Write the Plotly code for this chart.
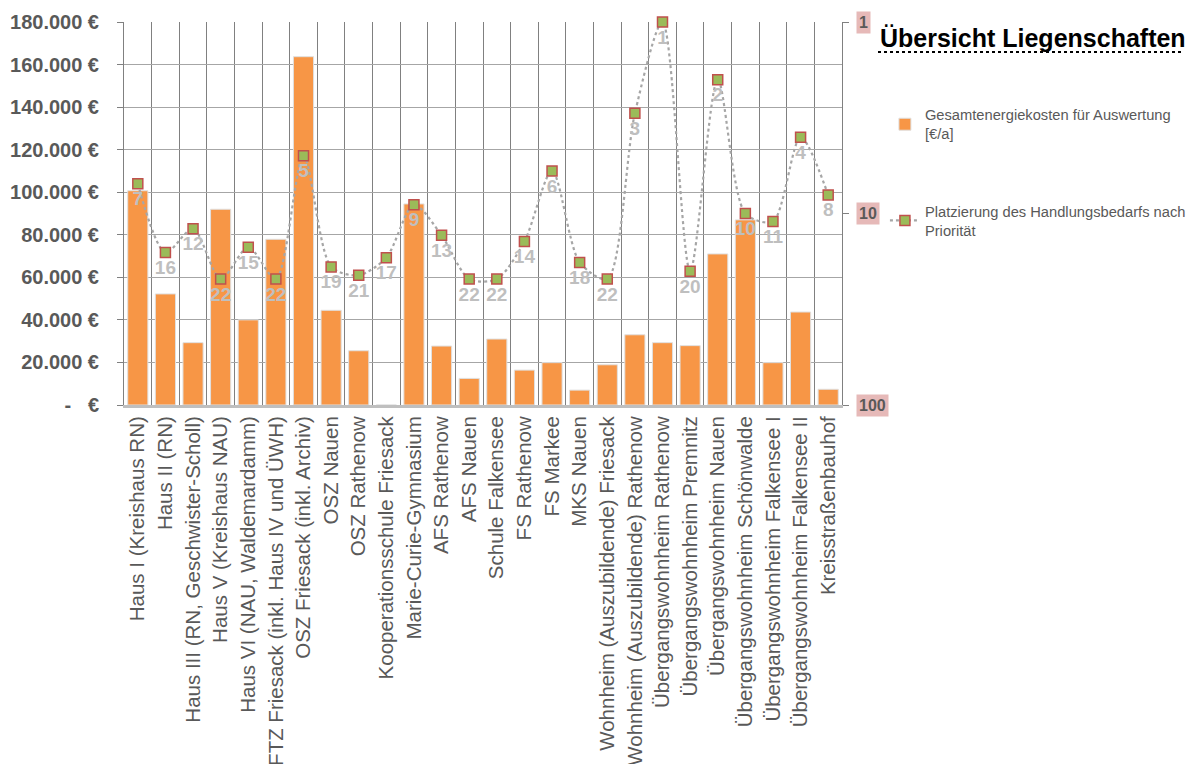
import plotly.graph_objects as go
import math

categories = [
    "Haus I (Kreishaus RN)", "Haus II (RN)", "Haus III (RN, Geschwister-Scholl)",
    "Haus V (Kreishaus NAU)", "Haus VI (NAU, Waldemardamm)",
    "FTZ Friesack (inkl. Haus IV und ÜWH)", "OSZ Friesack (inkl. Archiv)",
    "OSZ Nauen", "OSZ Rathenow", "Kooperationsschule Friesack",
    "Marie-Curie-Gymnasium", "AFS Rathenow", "AFS Nauen", "Schule Falkensee",
    "FS Rathenow", "FS Markee", "MKS Nauen", "Wohnheim (Auszubildende) Friesack",
    "Wohnheim (Auszubildende) Rathenow", "Übergangswohnheim Rathenow",
    "Übergangswohnheim Premnitz", "Übergangswohnheim Nauen",
    "Übergangswohnheim Schönwalde", "Übergangswohnheim Falkensee I",
    "Übergangswohnheim Falkensee II", "Kreisstraßenbauhof",
]
energy_costs = [
    100700, 52200, 29300, 92000, 40000, 77900, 163700, 44500, 25500, 0,
    94500, 27700, 12500, 31000, 16400, 19900, 7000, 18900, 33000, 29300,
    27900, 71000, 87000, 19900, 43700, 7400,
]
priority_rank = [
    7, 16, 12, 22, 15, 22, 5, 19, 21, 17, 9, 13, 22, 22, 14, 6, 18, 22,
    3, 1, 20, 2, 10, 11, 4, 8,
]
left_tickvals = [0, 20000, 40000, 60000, 80000, 100000, 120000, 140000, 160000, 180000]
left_ticktext = ["-\u00a0\u00a0\u00a0€", "20.000 €", "40.000 €", "60.000 €", "80.000 €",
                 "100.000 €", "120.000 €", "140.000 €", "160.000 €", "180.000 €"]
right_tickvals = [1, 10, 100]

FONT = "Arial, 'Liberation Sans', sans-serif"
GRAY = "#595959"

fig = go.Figure()
fig.add_trace(go.Bar(
    x=categories, y=energy_costs,
    name="Gesamtenergiekosten für Auswertung<br>[€/a]",
    marker=dict(color="#f79646", line=dict(color="#e0e0e0", width=1)),
    legendgroup="a",
))
fig.add_trace(go.Scatter(
    x=categories, y=priority_rank, yaxis="y2",
    name="Platzierung des Handlungsbedarfs nach<br>Priorität",
    mode="lines+markers+text",
    line=dict(color="#a6a6a6", width=2.2, dash="dot", shape="spline", smoothing=0.8),
    marker=dict(symbol="square", size=10, color="#9bbb59", line=dict(color="#c0504d", width=1.5)),
    text=[str(r) for r in priority_rank],
    textposition="bottom center",
    textfont=dict(family=FONT, size=19, color="#bfbfbf", weight="bold"),
    cliponaxis=False,
    legendgroup="b",
))

fig.update_layout(
    width=1188, height=764,
    margin=dict(l=124, r=346, t=22, b=359, autoexpand=False),
    paper_bgcolor="white", plot_bgcolor="white",
    bargap=0.27,
    font=dict(family=FONT, color=GRAY),
    showlegend=True,
    legend=dict(x=1.0598, xanchor="left", y=0.80, yanchor="top",
                font=dict(family=FONT, size=14.7, color=GRAY),
                tracegroupgap=55, traceorder="grouped",
                bgcolor="rgba(0,0,0,0)"),
    xaxis=dict(
        type="category", tickson="boundaries", showgrid=True,
        range=[-0.5, len(categories) - 0.5],
        gridcolor="#808080", gridwidth=1, automargin=False,
        tickangle=-90, tickfont=dict(family=FONT, size=20.5, color=GRAY),
        showline=True, linecolor="#bfbfbf", linewidth=3,
        ticks="", mirror=False,
    ),
    yaxis=dict(
        range=[0, 180000], tickvals=left_tickvals, ticktext=left_ticktext,
        tickfont=dict(family=FONT, size=20, color=GRAY, weight="bold"),
        showgrid=True, gridcolor="#a6a6a6", gridwidth=1, automargin=False,
        showline=True, linecolor="#808080", linewidth=1,
        ticks="outside", ticklen=6, tickcolor="#808080",
        ticklabelstandoff=14,
        zeroline=False,
    ),
    yaxis2=dict(
        type="log", range=[math.log10(100), math.log10(1)],
        overlaying="y", side="right", automargin=False,
        tickvals=right_tickvals, showticklabels=False,
        showgrid=False, showline=True, linecolor="#808080", linewidth=1,
        ticks="outside", ticklen=6, tickcolor="#808080",
        zeroline=False,
    ),
)

for v in right_tickvals:
    fig.add_annotation(
        xref="paper", x=1.0, xshift=14, xanchor="left",
        yref="y2", y=math.log10(v), yanchor="middle",
        text=f"<b>{v}</b>", showarrow=False,
        font=dict(family=FONT, size=16, color=GRAY),
        bgcolor="#e6b9b8", borderpad=2,
    )

fig.add_annotation(
    xref="paper", yref="paper", x=(878 - 124) / 718, y=1 - (54 - 22) / 383,
    xanchor="left", yanchor="bottom",
    text="<b>Übersicht Liegenschaften</b>", showarrow=False,
    font=dict(family=FONT, size=25, color="black"),
)
fig.add_shape(
    type="line", xref="paper", yref="paper",
    x0=(878 - 124) / 718, x1=(1183 - 124) / 718,
    y0=1 - (52 - 22) / 383, y1=1 - (52 - 22) / 383,
    line=dict(color="black", width=2, dash="dot"),
)

fig.write_html("out.html")
